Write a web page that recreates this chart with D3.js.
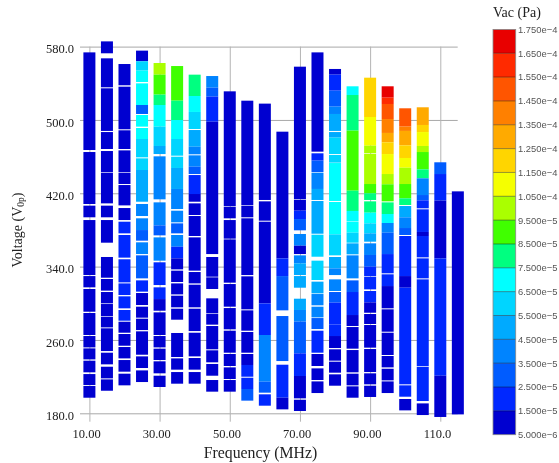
<!DOCTYPE html>
<html><head><meta charset="utf-8">
<style>html,body{margin:0;padding:0;background:#fff}svg{display:block;filter:blur(0.4px)}</style>
<script src="https://cdnjs.cloudflare.com/ajax/libs/d3/7.8.5/d3.min.js"></script>
</head><body><svg id="c" width="559" height="463"></svg>
<script>
const xTicks=[10,30,50,70,90,110];
const xTickLabels=["10.00","30.00","50.00","70.00","90.00","110.0"];
const yTicks=[180,260,340,420,500,580];
const legendLabels=["1.750e\u22124","1.650e\u22124","1.550e\u22124","1.450e\u22124","1.350e\u22124","1.250e\u22124","1.150e\u22124","1.050e\u22124","9.500e\u22125","8.500e\u22125","7.500e\u22125","6.500e\u22125","5.500e\u22125","4.500e\u22125","3.500e\u22125","2.500e\u22125","1.500e\u22125","5.000e\u22126"];
const levelColors=["#0000d0","#0028ff","#005cff","#0084ff","#00aaff","#00d5ff","#00ffff","#00ff80","#40ff00","#aaff00","#f5ff00","#ffd500","#ffaa00","#ff8000","#ff5500","#ff2a00","#e80000"];
const freqs=[10,15,20,25,30,35,40,45,50,55,60,65,70,75,80,85,90,95,100,105,110,115];
// each segment: [top voltage, bottom voltage, colour level]
const c10=[[573.7,467.2,0],[465,408.3,0],[406.5,393.8,0],[390.8,330.8,0],[329.7,317.4,0],[315.6,290.8,0],[289.4,265.4,0],[264.3,251.9,0],[250.8,238.8,0],[237.4,224.7,0],[222.8,210.8,0],[209.8,197,0]];
const c15=[[585.7,572.7,0],[567.2,535.6,0],[534.5,488,0],[486.8,468.3,0],[466.1,443.2,0],[442.5,409,0],[406.5,393.8,0],[390.8,366.1,0],[350.5,327.9,0],[326.5,313.8,0],[312.3,299.9,0],[299.2,286.1,0],[285.4,273.7,0],[272.7,247.9,0],[246.1,233.4,0],[230.8,218.1,0],[217,204.6,0]];
const c20=[[561,537.8,0],[536.3,489.8,0],[488.7,468.3,0],[466.8,443.2,0],[442.5,430.1,0],[429,406.8,0],[403.9,390.8,0],[389,376.3,1],[374.5,349.8,1],[348,322.8,1],[321.7,309,1],[307.6,294.5,1],[292.7,281,1],[279.9,267.9,0],[266.5,253.7,0],[252.3,239.9,0],[238.1,225.4,0],[223.2,210.5,0]];
const c25=[[575.6,564,0],[564,553.8,5],[553.8,541.4,6],[539.9,516.3,6],[516.3,506.5,2],[505.4,492.7,6],[491.2,479.2,6],[479.2,459.2,5],[458.1,445.4,5],[445.4,410.8,4],[408.3,395.2,3],[392.7,379.9,3],[379.9,368.3,2],[366.5,353.7,3],[352.3,327.2,2],[325,312.7,1],[311.2,298.1,0],[296.3,284.3,0],[283.2,270.8,0],[269.4,243.9,0],[242.1,229.4,0],[226.8,214.1,0]];
const c30=[[562.1,549.4,9],[549.4,527.6,8],[527.6,516.3,7],[516.3,492.7,6],[492.7,471.6,5],[471.6,462.8,4],[460.3,413.4,3],[410.1,385,3],[385,374.1,2],[371.9,346.5,3],[344.7,319.9,1],[317.4,304.6,1],[304.6,291.9,0],[290.1,265.4,0],[264.3,251.9,0],[250.5,238.1,0],[236.7,223.6,0],[221,208.7,0]];
const c35=[[558.8,521,8],[521,499.9,7],[499.9,479.2,6],[479.2,461,5],[459.9,447.6,5],[447.6,424.7,4],[424.7,402.8,3],[401,388.3,3],[387.2,376.3,2],[374.5,361.7,3],[361.7,349,1],[349,337,0],[335.6,323.2,0],[321.7,309.7,0],[308.3,295.6,0],[294.1,282.1,0],[267.6,241.4,0],[239.9,227.6,0],[225,212.3,0]];
const c40=[[549.4,526.1,7],[526.1,508.7,6],[508.7,490.1,5],[489,470.8,4],[470.8,462.5,3],[461.4,449,3],[449,441,2],[439.9,419.2,1],[419.2,410.8,0],[409,396.3,0],[395.2,373.4,0],[371.9,335.6,0],[334.1,321.7,0],[320.3,295.6,0],[294.1,269.7,0],[267.9,242.1,0],[240.3,227.6,0],[225,212.3,0]];
const c45=[[547.9,535.2,3],[535.2,525.4,2],[525.4,498.1,1],[498.1,353.7,0],[350.5,329,0],[328.3,315.6,0],[305.4,289,0],[288.3,276.7,0],[275.2,249.8,0],[248.7,235.6,0],[233.8,221,0],[216.3,203.6,0]];
const c50=[[531.2,406.1,0],[405.4,392.7,0],[390.8,370.5,0],[369.7,322.5,0],[321,296.3,0],[294.8,271.6,0],[270.1,246.1,0],[244.7,231.6,0],[230.1,217.4,0],[216.3,203.6,0]];
const c55=[[521,407.2,0],[406.5,393.8,0],[392.7,330.8,0],[329.4,293.4,0],[292.3,270.1,0],[268.7,246.1,0],[244.7,232.7,0],[232.7,219.9,1],[218.8,206.5,1],[206.5,193.8,2]];
const c60=[[517.8,412.7,0],[411.2,390.1,0],[389,299.9,0],[299.9,265.4,1],[265.4,214.5,3],[214.5,202.5,2],[200.7,188.3,1]];
const c65=[[487.2,349,0],[349,329.7,1],[329.7,292.3,2],[286.1,237,2],[233,197,1],[197,184.3,0]];
const c70=[[558.1,413.4,0],[412.7,401,0],[401,391.9,1],[391.9,379.6,2],[375.6,362.8,3],[362.8,353.7,0],[352.3,343.6,3],[343.6,330.8,4],[329.7,317,4],[305,292.7,4],[292.7,280,3],[280,245.4,2],[245.4,220.7,1],[220.7,196.3,0],[194.8,182.5,0]];
const c75=[[573.7,465.4,0],[463.6,455.6,1],[455.6,443.2,2],[442.5,424.7,3],[424.7,412.7,4],[411.6,375.9,4],[374.8,350.8,5],[346.5,325.4,5],[323.6,310.8,4],[310.1,297.8,3],[296.3,284.6,3],[283.9,271.9,2],[270.1,246.1,1],[244.7,231.6,0],[229,216.3,0],[214.8,202.1,0]];
const c80=[[555.6,549.4,0],[549.4,531.9,1],[531.9,514.5,2],[514.5,506.5,3],[506.5,488,4],[486.8,480.7,4],[480.7,462.8,5],[461.8,453.4,5],[453,411.6,6],[410.5,375.2,6],[375.2,352.3,5],[350.5,338.1,4],[338.1,330.8,3],[326.1,313.4,3],[312.3,300.7,2],[300.7,277,1],[277,264.3,1],[264.3,251.2,0],[249.8,237.4,0],[236.3,224.3,0],[222.5,210.1,0]];
const c85=[[536.7,527.2,6],[527.2,488.3,7],[488.3,422.8,8],[422.8,400.7,7],[400.7,389.4,6],[389,377,6],[377,366.1,5],[365.4,353.4,4],[352.3,327.2,3],[325,312.3,2],[312.3,287.2,1],[287.2,275.2,0],[274.1,250.5,0],[249,224.7,0],[223.2,210.5,0],[209.4,197,0]];
const c90=[[546.1,503.2,11],[503.2,471.9,10],[471.9,463.9,9],[463.2,430.1,9],[430.1,420,8],[420,412.7,7],[411.2,398.8,7],[398.8,387.2,6],[387.2,376.3,5],[376.3,367.2,4],[365.4,352.7,3],[352.7,339.9,2],[339.9,329.7,1],[329,315.2,1],[313.4,301,1],[301,289.7,0],[288.3,277.4,0],[276.3,251.6,0],[250.1,225,0],[223.6,211.6,0],[210.1,197.8,0]];
const c95=[[536.7,524.3,16],[524.3,517.4,15],[517.4,501,14],[501,485.8,13],[485.8,475.6,12],[475.6,462.8,11],[462.8,441,10],[441,429.8,9],[429.8,411.2,8],[410.1,397.4,7],[397.4,387.6,6],[387.6,377,3],[377,353.7,2],[353.7,332.7,1],[331.6,318.8,1],[318.8,294.5,0],[293.4,269,0],[267.9,243.6,0],[242.5,230.1,0],[228.6,215.9,0],[214.8,202.1,0]];
const c100=[[512.7,492.7,14],[492.7,488,13],[488,472.3,12],[472.3,458.5,11],[458.5,447.9,10],[447.9,430.1,9],[430.1,414.5,8],[414.5,407.2,7],[406.1,393.8,4],[393.8,382.1,3],[382.1,374.5,2],[373.4,329.7,1],[329.7,317,0],[317,211.6,1],[210.5,198.1,1],[195.6,183.2,0]];
const c105=[[513.8,494.5,12],[494.5,486.8,11],[486.8,471.6,10],[471.6,465,9],[465,446.1,8],[446.1,436.3,7],[436.3,418.1,3],[418.1,412.3,2],[412.3,403.6,1],[402.5,377.8,1],[377.8,373.4,0],[373.4,350.1,1],[349,327.2,1],[326.1,231.6,1],[230.8,193.4,1],[190.8,178.1,0]];
const c110=[[453.8,441,2],[441,412,1],[412,349,0],[349,221,1],[221,176,0]];
const c115=[[422.1,178.8,0]];
const columns=[c10,c15,c20,c25,c30,c35,c40,c45,c50,c55,c60,c65,c70,c75,c80,c85,c90,c95,c100,c105,c110,c115];

const svg=d3.select("#c");
const x=d3.scaleLinear().domain([10,110]).range([89.4,440.3]);
const y=d3.scaleLinear().domain([180,580]).range([413.3,46.6]);
const barW=12, gridL=80, gridR=457.7, gridB=421.7;
const serif="'Liberation Serif','Times New Roman',serif";

const gy=svg.append("g").attr("transform",`translate(${gridL},0)`)
  .call(d3.axisLeft(y).tickValues(yTicks).tickSize(-(gridR-gridL)).tickPadding(6).tickFormat(d3.format(".1f")));
const gx=svg.append("g").attr("transform",`translate(0,${gridB})`)
  .call(d3.axisBottom(x).tickValues(xTicks).tickSize(-(gridB-y(580))).tickPadding(6).tickFormat((d,i)=>xTickLabels[i]));
gy.select(".domain").remove(); gx.select(".domain").remove();
gy.selectAll("line").attr("stroke","#a8a8a8");
gx.selectAll("line").attr("stroke","#b4b4b4");
gy.selectAll("text").attr("dy","0.5em").attr("font-family",serif).attr("font-size",12.5).attr("fill","#222");
gx.selectAll("text").attr("x",-3.3).attr("y",7).attr("font-family",serif).attr("font-size",12.5).attr("fill","#222");

svg.append("g").selectAll("g").data(columns).join("g").each(function(segs,i){
  d3.select(this).selectAll("rect").data(segs).join("rect")
    .attr("x",x(freqs[i])-barW/2).attr("width",barW)
    .attr("y",d=>y(d[0])).attr("height",d=>y(d[1])-y(d[0]))
    .attr("fill",d=>levelColors[d[2]]);
});

svg.append("text").attr("x",260.5).attr("y",458).attr("text-anchor","middle")
  .attr("font-family",serif).attr("font-size",15.8).attr("fill","#222").text("Frequency (MHz)");
const yt=svg.append("text").attr("transform","translate(22,230) rotate(-90)").attr("text-anchor","middle")
  .attr("font-family",serif).attr("font-size",14).attr("fill","#222");
yt.append("tspan").text("Voltage (V");
yt.append("tspan").attr("font-size",9.5).attr("dy",2).text("0p");
yt.append("tspan").attr("dy",-2).text(")");

// legend
const ly=d3.scaleLinear().domain([0,legendLabels.length-1]).range([29.4,434.7]);
const legX=493, legW=22.7;
const lg=svg.append("g");
lg.selectAll("rect").data(levelColors.slice().reverse()).join("rect")
  .attr("x",legX).attr("width",legW).attr("y",(d,i)=>ly(i)).attr("height",ly(1)-ly(0)).attr("fill",d=>d);
lg.selectAll("line").data(legendLabels.slice(1,-1)).join("line")
  .attr("x1",legX).attr("x2",legX+legW).attr("y1",(d,i)=>ly(i+1)).attr("y2",(d,i)=>ly(i+1))
  .attr("stroke","#000").attr("stroke-opacity",0.4);
lg.append("rect").attr("x",legX).attr("y",ly(0)).attr("width",legW).attr("height",ly(17)-ly(0))
  .attr("fill","none").attr("stroke","#888").attr("stroke-width",0.8);
lg.selectAll("text").data(legendLabels).join("text")
  .attr("x",518).attr("y",(d,i)=>ly(i)).attr("dy","0.36em")
  .attr("font-family","'Liberation Sans',Arial,sans-serif").attr("font-size",9.4).attr("fill","#555").text(d=>d);
svg.append("text").attr("x",493).attr("y",17).attr("font-family",serif).attr("font-size",14).attr("fill","#222").text("Vac (Pa)");
</script></body></html>
